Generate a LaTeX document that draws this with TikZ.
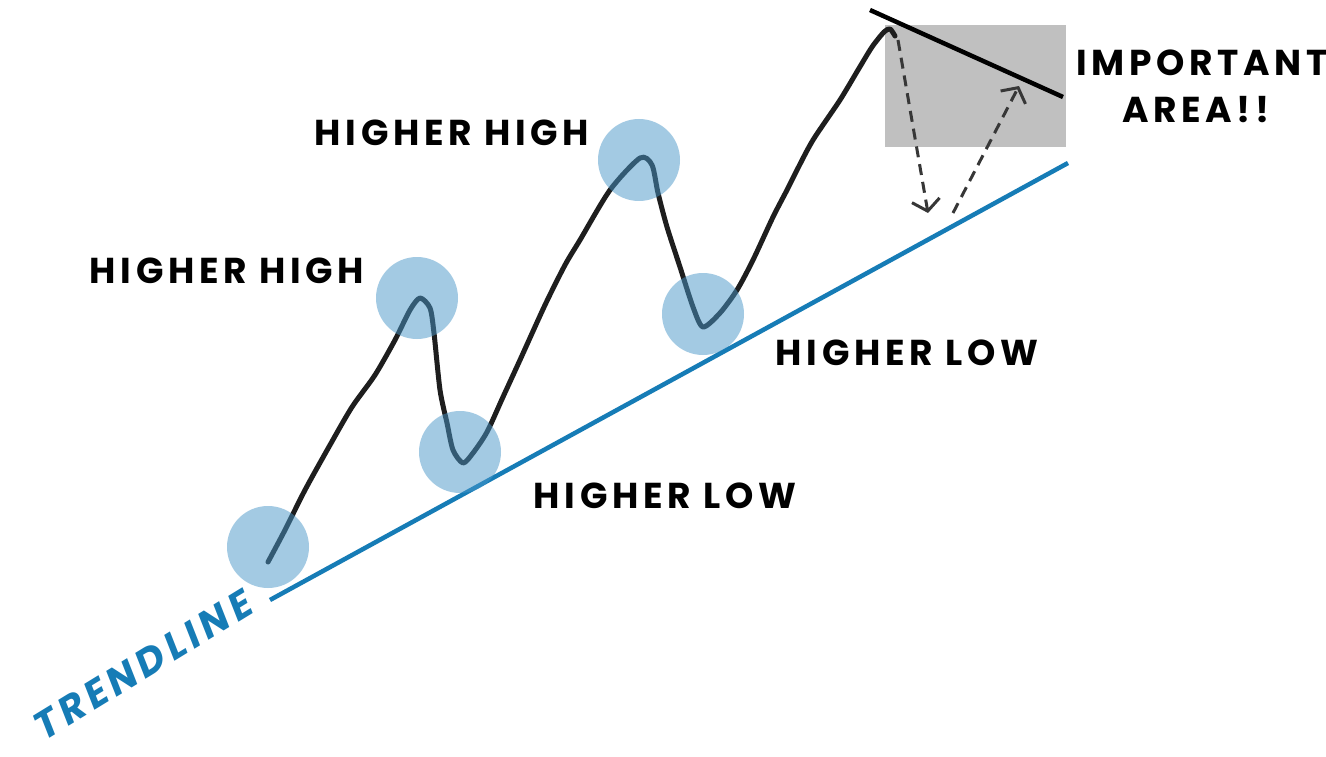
\documentclass[tikz,border=0pt]{standalone}
\usepackage{fontspec}
\newfontfamily\handfont[LetterSpace=13]{Poppins}
\usetikzlibrary{arrows.meta, positioning}
\definecolor{trendblue}{RGB}{22,124,182}
\definecolor{pivotblue}{RGB}{72,150,200}
\definecolor{pricegray}{RGB}{30,30,30}
\definecolor{areagray}{RGB}{192,192,192}
\definecolor{dashgray}{RGB}{55,55,55}
\tikzset{
  pivot/.style={circle, minimum size=82pt, inner sep=0pt,
    fill=pivotblue, fill opacity=0.5},
  lbl/.style={font={\handfont\bfseries\fontsize{36}{38}\selectfont},
    inner sep=0pt},
  price/.style={draw=pricegray, line width=5pt, line cap=round,
    line join=round},
  trend/.style={draw=trendblue, line width=4.5pt},
  darr/.style={draw=dashgray, line width=3pt, dash pattern=on 11pt off 7pt,
    -{Straight Barb[length=11pt, width=28pt, line width=3pt]}}
}

\begin{document}
\begin{tikzpicture}[x=1pt, y=-1pt]
  \useasboundingbox[fill=white] (0,0) rectangle (1326,757);

  %% area and trendline
  \fill[areagray] (885,25) rectangle (1066,147);
  \coordinate (tl0) at (270,600);
  \coordinate (tl1) at (1068,163);
  \draw[trend] (tl0) -- (tl1);
  \coordinate (rs0) at (870,10);
  \coordinate (rs1) at (1063,97);
  \draw[draw=black, line width=4.5pt] (rs0) -- (rs1);

  %% price
  \draw[price] plot[smooth, tension=0.45] coordinates {
    (268,562) (285,530) (305,490) (330,445) (352,407) (375,375) (395,340)
    (410,310) (420,298) (430,308) (434,333) (440,390) (447,423) (453,450)
    (463,463) (473,453) (487,432) (503,397) (520,360) (545,305) (565,265)
    (580,240) (610,190) (640,158) (652,165) (658,193) (667,227) (680,267)
    (693,307) (703,327) (720,313) (737,290) (753,260) (773,217) (787,190)
    (797,170) (813,140) (840,100) (858,70) (872,47) (884,32) (890,29)
    (895,36)};

  %% pivots
  \node[pivot] (st)  at (268,547) {};
  \node[pivot] (hh1) at (417,298) {};
  \node[pivot] (hl1) at (460,452) {};
  \node[pivot] (hh2) at (639,160) {};
  \node[pivot] (hl2) at (703,314) {};

  %% retest
  \coordinate (pk) at (898,40);
  \coordinate (dn) at (928,213);
  \coordinate (up0) at (953,213);
  \coordinate (up1) at (1019,86);
  \draw[darr] (pk) -- (dn);
  \draw[darr] (up0) -- (up1);

  %% labels
  \node[lbl] (lhh2) at (452,133) {HIGHER HIGH};
  \node[lbl] (lhh1) at (227,271) {HIGHER HIGH};
  \node[lbl] (lhl2) at (907,353) {HIGHER LOW};
  \node[lbl] (lhl1) at (665,496) {HIGHER LOW};
  \node[lbl] (imp) at (1202,63) {IMPORTANT};
  \node[lbl, below=20pt of imp.south, anchor=north, xshift=-6pt] (area) {AREA!!};
  \node[lbl, text=trendblue, rotate=31.5,
        font={\handfont\bfseries\itshape\fontsize{39}{41}\selectfont}]
        (trd) at (143,665) {TRENDLINE};

\end{tikzpicture}
\end{document}
